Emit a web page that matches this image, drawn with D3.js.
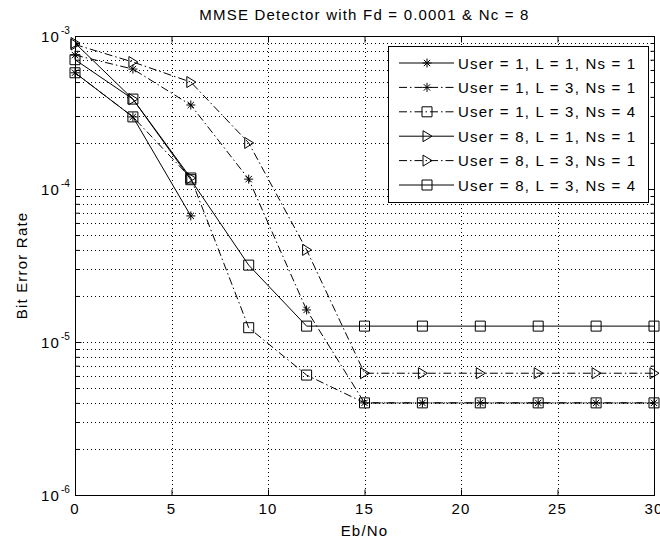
<!DOCTYPE html>
<html>
<head>
<meta charset="utf-8">
<script src="https://cdn.jsdelivr.net/npm/d3@7"></script>
<style>
  html, body { margin: 0; padding: 0; background: #fff; }
  svg { display: block; font-family: "Liberation Sans", Arial, sans-serif; }
</style>
</head>
<body>
<svg id="chart" width="660" height="540"></svg>
<script>
// ---- data ----
const ebno = [0, 3, 6, 9, 12, 15, 18, 21, 24, 27, 30];
const ber_u1_l1_ns1 = [5.75e-4, 2.96e-4, 6.67e-5, null, null, null, null, null, null, null, null];
const ber_u1_l3_ns1 = [7.5e-4, 6.08e-4, 3.54e-4, 1.16e-4, 1.62e-5, 4.0e-6, 4.0e-6, 4.0e-6, 4.0e-6, 4.0e-6, 4.0e-6];
const ber_u1_l3_ns4 = [5.75e-4, 2.96e-4, 1.18e-4, 1.24e-5, 6.08e-6, 4.0e-6, 4.0e-6, 4.0e-6, 4.0e-6, 4.0e-6, 4.0e-6];
const ber_u8_l1_ns1 = [9.0e-4, 3.87e-4, 1.18e-4, null, null, null, null, null, null, null, null];
const ber_u8_l3_ns1 = [8.8e-4, 6.76e-4, 5.0e-4, 2.0e-4, 4.0e-5, 6.25e-6, 6.25e-6, 6.25e-6, 6.25e-6, 6.25e-6, 6.25e-6];
const ber_u8_l3_ns4 = [7.0e-4, 3.87e-4, 1.15e-4, 3.18e-5, 1.27e-5, 1.27e-5, 1.27e-5, 1.27e-5, 1.27e-5, 1.27e-5, 1.27e-5];
const seriesLabels = [
  "User = 1, L = 1, Ns = 1",
  "User = 1, L = 3, Ns = 1",
  "User = 1, L = 3, Ns = 4",
  "User = 8, L = 1, Ns = 1",
  "User = 8, L = 3, Ns = 1",
  "User = 8, L = 3, Ns = 4"
];
const seriesMarkers = ["star", "star", "square", "triangle", "triangle", "square"];
const seriesDashed = [false, true, true, false, true, false];
const xTicks = [0, 5, 10, 15, 20, 25, 30];
const yTickExponents = [-6, -5, -4, -3];
const titleText = "MMSE Detector with Fd = 0.0001 & Nc = 8";
const xLabelText = "Eb/No";
const yLabelText = "Bit Error Rate";

// ---- layout ----
const L = 75, R = 654, T = 36, B = 495;
const FONT = 15, LS = 1.2;
const svg = d3.select("#chart");
const x = d3.scaleLinear().domain([0, 30]).range([L, R]);
const y = d3.scaleLog().domain([1e-6, 1e-3]).range([B, T]);

const seriesValues = [ber_u1_l1_ns1, ber_u1_l3_ns1, ber_u1_l3_ns4, ber_u8_l1_ns1, ber_u8_l3_ns1, ber_u8_l3_ns4];
const series = seriesLabels.map((label, i) => ({
  label, marker: seriesMarkers[i], dashed: seriesDashed[i],
  points: ebno.map((e, j) => ({ x: e, y: seriesValues[i][j] }))
}));

// ---- grid ----
const grid = svg.append("g");
const minorVals = [];
for (let k = -6; k < -3; k++) for (let m = 1; m <= 9; m++) minorVals.push(m * Math.pow(10, k));
minorVals.push(1e-3);
grid.selectAll("line.gy").data(minorVals.filter(v => v > 1e-6 && v < 1e-3)).enter().append("line")
  .attr("x1", L).attr("x2", R).attr("y1", d => Math.round(y(d)) + 0.5).attr("y2", d => Math.round(y(d)) + 0.5)
  .attr("stroke", "#000").attr("stroke-width", 1).attr("stroke-dasharray", "1,3");
grid.selectAll("line.gx").data(xTicks.filter(v => v > 0 && v < 30)).enter().append("line")
  .attr("x1", d => Math.round(x(d)) + 0.5).attr("x2", d => Math.round(x(d)) + 0.5).attr("y1", T).attr("y2", B)
  .attr("stroke", "#000").attr("stroke-width", 1).attr("stroke-dasharray", "1,3");

// ---- axes (MATLAB style: inward ticks, box) ----
const axG = svg.append("g");
const bottomAxis = d3.axisBottom(x).tickValues(xTicks).tickSize(-6).tickFormat("");
const topAxis = d3.axisTop(x).tickValues(xTicks).tickSize(-6).tickFormat("");
axG.append("g").attr("transform", `translate(0,${B + 0.5})`).call(bottomAxis);
axG.append("g").attr("transform", `translate(0,${T + 0.5})`).call(topAxis);
const majorY = yTickExponents.map(e => Math.pow(10, e));
const minorY = minorVals.filter(v => !majorY.some(m => Math.abs(m - v) / m < 1e-9));
axG.append("g").attr("transform", `translate(${L + 0.5},0)`).call(d3.axisLeft(y).tickValues(majorY).tickSize(-6).tickFormat(""));
axG.append("g").attr("transform", `translate(${L + 0.5},0)`).call(d3.axisLeft(y).tickValues(minorY).tickSize(-4).tickFormat(""));
axG.append("g").attr("transform", `translate(${R + 0.5},0)`).call(d3.axisRight(y).tickValues(majorY).tickSize(-6).tickFormat(""));
axG.append("g").attr("transform", `translate(${R + 0.5},0)`).call(d3.axisRight(y).tickValues(minorY).tickSize(-4).tickFormat(""));
axG.selectAll(".domain").remove();
axG.selectAll("line").attr("stroke", "#000");
svg.append("rect").attr("x", L + 0.5).attr("y", T + 0.5).attr("width", R - L).attr("height", B - T)
  .attr("fill", "none").attr("stroke", "#000").attr("stroke-width", 1);

// tick labels
svg.append("g").selectAll("text").data(xTicks).enter().append("text")
  .attr("x", d => x(d)).attr("y", B + 19).attr("text-anchor", "middle")
  .attr("font-size", FONT).attr("letter-spacing", LS).attr("fill", "#000").text(d => d);
const yl = svg.append("g").selectAll("g").data(yTickExponents).enter().append("g")
  .attr("transform", d => `translate(0,${y(Math.pow(10, d))})`);
yl.append("text").attr("x", 60).attr("y", 6).attr("text-anchor", "end")
  .attr("font-size", FONT).attr("letter-spacing", LS).attr("fill", "#000").text("10");
yl.append("text").attr("x", 61).attr("y", -2).attr("text-anchor", "start")
  .attr("font-size", 10).attr("fill", "#000").text(d => d);

// title & axis labels
svg.append("text").attr("x", (L + R) / 2).attr("y", 20).attr("text-anchor", "middle")
  .attr("font-size", FONT).attr("letter-spacing", LS).text(titleText);
svg.append("text").attr("x", (L + R) / 2).attr("y", 536).attr("text-anchor", "middle")
  .attr("font-size", FONT).attr("letter-spacing", LS).text(xLabelText);
svg.append("text").attr("transform", `translate(27,${(T + B) / 2}) rotate(-90)`).attr("text-anchor", "middle")
  .attr("font-size", FONT).attr("letter-spacing", LS).text(yLabelText);

// ---- series ----
const DASH = "8,3,1.5,3";
function markerPath(type) {
  if (type === "star") {
    const r = 4.5, d = 3.2;
    return `M${-r},0L${r},0M0,${-r}L0,${r}M${-d},${-d}L${d},${d}M${-d},${d}L${d},${-d}`;
  }
  if (type === "square") return "M-5,-5L5,-5L5,5L-5,5Z";
  return "M-4,-5.5L5,0L-4,5.5Z";
}
const line = d3.line().defined(d => d.y != null).x(d => x(d.x)).y(d => y(d.y));
const sg = svg.append("g");
series.forEach(s => {
  sg.append("path").attr("d", line(s.points)).attr("fill", "none").attr("stroke", "#000")
    .attr("stroke-width", 1).attr("stroke-dasharray", s.dashed ? DASH : null);
  sg.append("g").selectAll("path").data(s.points.filter(p => p.y != null)).enter().append("path")
    .attr("transform", p => `translate(${x(p.x)},${y(p.y)})`)
    .attr("d", markerPath(s.marker)).attr("fill", "none").attr("stroke", "#000").attr("stroke-width", 1);
});

// ---- legend ----
const lg = svg.append("g");
const lgX = 388, lgY = 46, lgW = 260, lgH = 156;
lg.append("rect").attr("x", lgX + 0.5).attr("y", lgY + 0.5).attr("width", lgW).attr("height", lgH)
  .attr("fill", "#fff").attr("stroke", "#000").attr("stroke-width", 1);
const rows = lg.selectAll("g.row").data(series).enter().append("g")
  .attr("transform", (d, i) => `translate(0,${lgY + 17 + i * 24.4})`);
rows.append("line").attr("x1", lgX + 11).attr("x2", lgX + 66).attr("y1", 0).attr("y2", 0)
  .attr("stroke", "#000").attr("stroke-width", 1).attr("stroke-dasharray", d => d.dashed ? DASH : null);
rows.append("path").attr("transform", `translate(${lgX + 39},0)`).attr("d", d => markerPath(d.marker))
  .attr("fill", "none").attr("stroke", "#000").attr("stroke-width", 1);
rows.append("text").attr("x", lgX + 70).attr("y", 5.5).attr("font-size", FONT).attr("letter-spacing", LS)
  .attr("fill", "#000").text(d => d.label);
</script>
</body>
</html>
